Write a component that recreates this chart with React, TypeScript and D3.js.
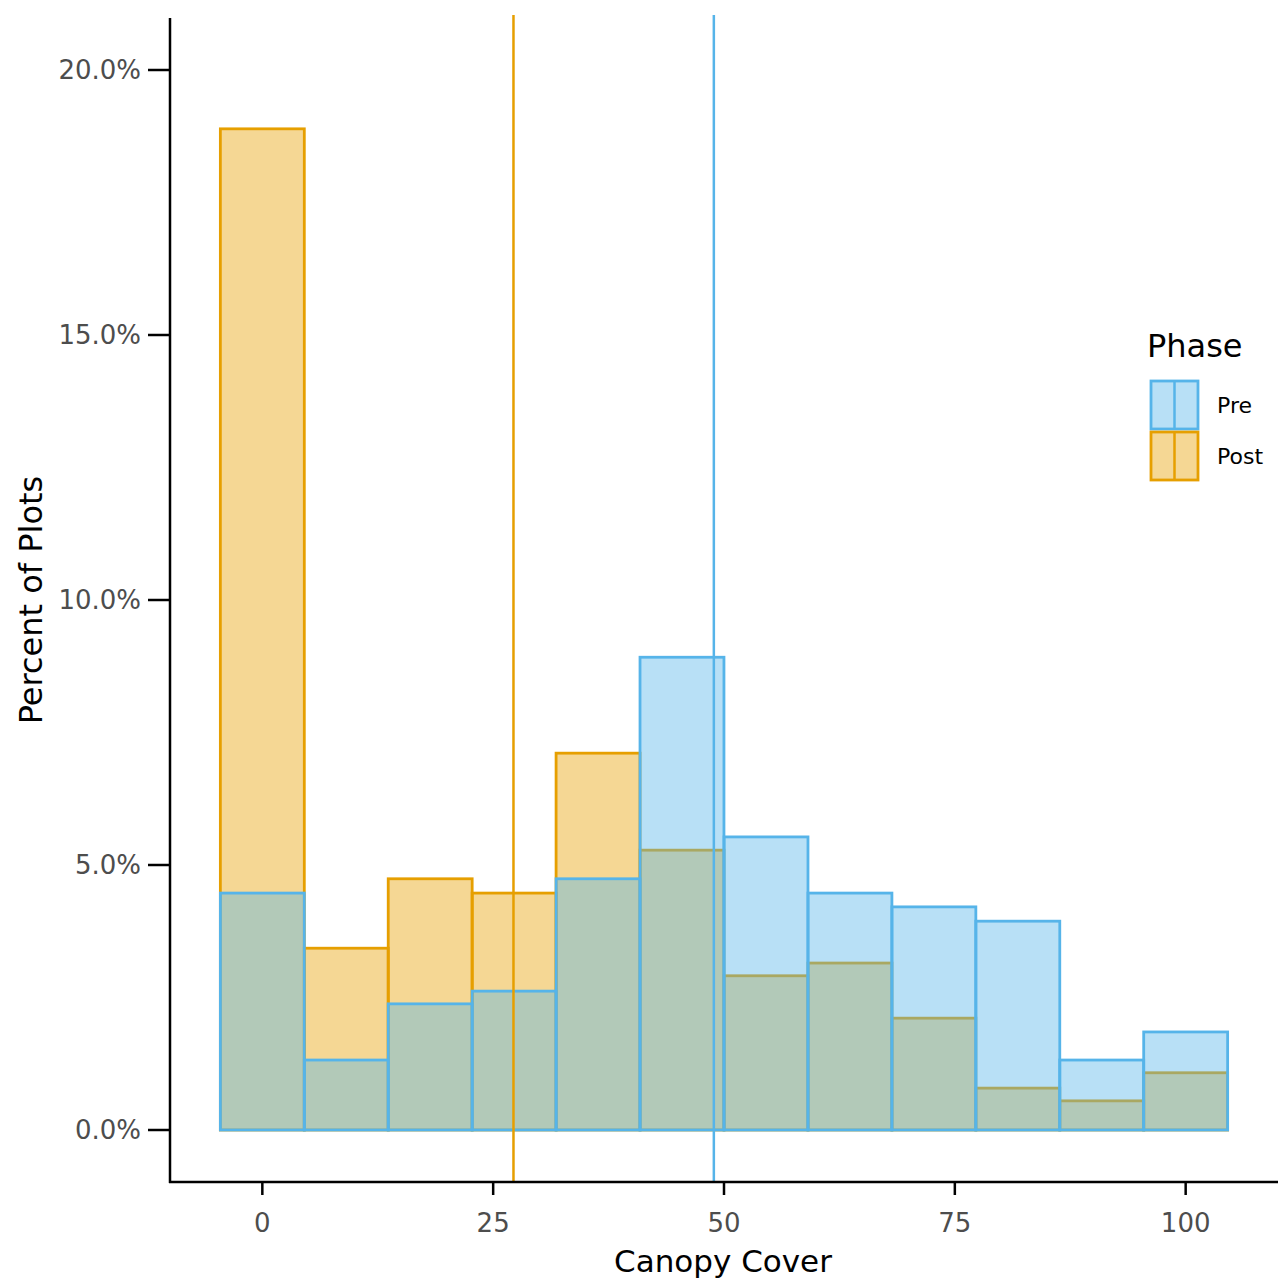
import React from "react";
import * as d3 from "d3";

// Histogram bins of canopy cover (12 bins, width 100/11, centred on 0 … 100)
const binCenters = [0, 9.09, 18.18, 27.27, 36.36, 45.45, 54.55, 63.64, 72.73, 81.82, 90.91, 100];
const preValues = [4.47, 1.32, 2.38, 2.62, 4.74, 8.92, 5.53, 4.47, 4.21, 3.94, 1.32, 1.85];
const postValues = [18.89, 3.43, 4.74, 4.47, 7.11, 5.28, 2.91, 3.15, 2.11, 0.79, 0.55, 1.08];
const meanPre = 48.9;
const meanPost = 27.2;
const xTicks = [0, 25, 50, 75, 100];
const yTicks = [0, 5, 10, 15, 20];
const phases = ["Pre", "Post"];

const binWidth = 100 / 11;
const colors: Record<string, string> = { Pre: "#56B4E9", Post: "#E69F00" };
const font = "'DejaVu Sans', Verdana, sans-serif";

export default function App() {
  const W = 1282;
  const H = 1279;
  const left = 170, right = 1278, top = 18, bottom = 1182;

  const x = d3.scaleLinear().domain([-10, 110]).range([left, right]);
  const y = d3.scaleLinear().domain([0, 20]).range([1130, 70]);

  const bars = (vals: number[], phase: string) =>
    vals.map((v, i) => {
      const x0 = x(binCenters[i] - binWidth / 2);
      const x1 = x(binCenters[i] + binWidth / 2);
      return (
        <rect
          key={phase + i}
          x={x0}
          y={y(v)}
          width={x1 - x0}
          height={y(0) - y(v)}
          fill={colors[phase]}
          fillOpacity={0.42}
          stroke={colors[phase]}
          strokeWidth={2.8}
        />
      );
    });

  return (
    <svg width={W} height={H} style={{ position: "absolute", left: 0, top: 0, background: "#fff" }}>
      <rect width={W} height={H} fill="#fff" />
      {bars(postValues, "Post")}
      {bars(preValues, "Pre")}
      <line x1={x(meanPost)} x2={x(meanPost)} y1={top - 3} y2={bottom} stroke={colors.Post} strokeWidth={2.5} />
      <line x1={x(meanPre)} x2={x(meanPre)} y1={top - 3} y2={bottom} stroke={colors.Pre} strokeWidth={2.5} />

      {/* axes */}
      <line x1={left} x2={left} y1={top} y2={bottom + 1} stroke="#000" strokeWidth={2.5} />
      <line x1={left - 1} x2={right} y1={bottom} y2={bottom} stroke="#000" strokeWidth={2.5} />
      {yTicks.map((t) => (
        <g key={"y" + t}>
          <line x1={148} x2={left} y1={y(t)} y2={y(t)} stroke="#000" strokeWidth={2.5} />
          <text x={141} y={y(t)} dy="0.36em" textAnchor="end" fontFamily={font} fontSize={26} fill="#4d4d4d">
            {t.toFixed(1) + "%"}
          </text>
        </g>
      ))}
      {xTicks.map((t) => (
        <g key={"x" + t}>
          <line x1={x(t)} x2={x(t)} y1={bottom} y2={bottom + 13} stroke="#000" strokeWidth={2.5} />
          <text x={x(t)} y={1232} textAnchor="middle" fontFamily={font} fontSize={26} fill="#4d4d4d">
            {t}
          </text>
        </g>
      ))}
      <text x={723} y={1272} textAnchor="middle" fontFamily={font} fontSize={31} fill="#000">
        Canopy Cover
      </text>
      <text
        transform={`translate(42,${(top + bottom) / 2}) rotate(-90)`}
        textAnchor="middle"
        fontFamily={font}
        fontSize={32}
        fill="#000"
      >
        Percent of Plots
      </text>

      {/* legend */}
      <text x={1147} y={357} fontFamily={font} fontSize={32} fill="#000">Phase</text>
      {phases.map((p, i) => {
        const ky = 381 + i * 51;
        return (
          <g key={p}>
            <rect x={1151} y={ky} width={47} height={48} fill={colors[p]} fillOpacity={0.42} stroke={colors[p]} strokeWidth={2.8} />
            <line x1={1174.5} x2={1174.5} y1={ky} y2={ky + 48} stroke={colors[p]} strokeWidth={2.5} />
            <text x={1217} y={ky + 24} dy="0.36em" fontFamily={font} fontSize={22} fill="#000">{p}</text>
          </g>
        );
      })}
    </svg>
  );
}
